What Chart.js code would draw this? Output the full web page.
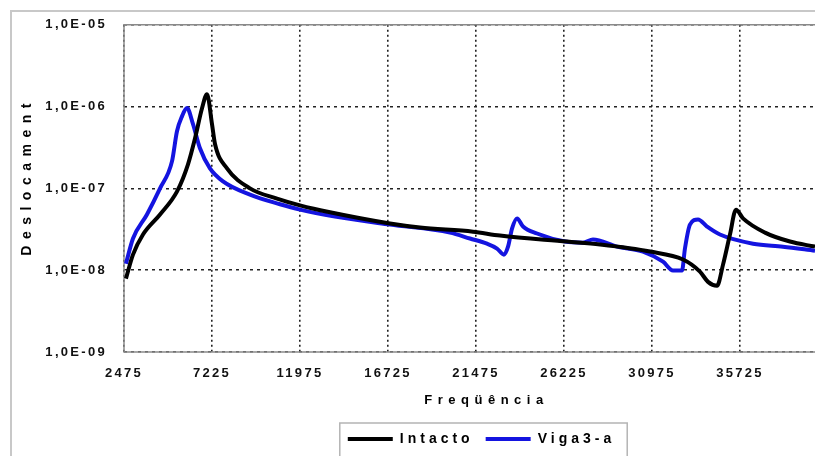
<!DOCTYPE html>
<html><head><meta charset="utf-8">
<script src="https://cdn.jsdelivr.net/npm/chart.js@4.4.1/dist/chart.umd.min.js"></script>
<style>html,body{margin:0;padding:0;background:#fff;overflow:hidden}</style>
</head><body>
<canvas id="c" width="815" height="456"></canvas>
<script>
const seriesNames = ['Intacto', 'Viga3-a'];
const intactoFreq = [2580, 2960, 3500, 4420, 5340, 5930, 6310, 6690, 6955, 7225, 7390, 8035, 9275, 10735, 11975, 13595, 16835, 18455, 21315, 22770, 26390, 28170, 30870, 32650, 33565, 34000, 34485, 34810, 35185, 35510, 35890, 37075, 38425, 39775];
const intactoDesl = [7.9e-9, 1.55e-8, 2.73e-8, 4.8e-8, 9.2e-8, 1.97e-7, 4.1e-7, 9.6e-7, 1.42e-6, 6.1e-7, 3.47e-7, 1.76e-7, 1.0e-7, 7.5e-8, 6.2e-8, 5.1e-8, 3.72e-8, 3.32e-8, 2.96e-8, 2.65e-8, 2.24e-8, 2.06e-8, 1.69e-8, 1.35e-8, 9.6e-9, 7.2e-9, 6.45e-9, 1.17e-8, 2.73e-8, 5.5e-8, 4.3e-8, 2.88e-8, 2.24e-8, 1.94e-8];
const vigaFreq = [2580, 2960, 3715, 4420, 5065, 5335, 5605, 5875, 6200, 6575, 7115, 7820, 9275, 10895, 11975, 13865, 16835, 20070, 21150, 22070, 22610, 22985, 23205, 23420, 23690, 24015, 24770, 26280, 27250, 27790, 29085, 30490, 31570, 32110, 32595, 32755, 33025, 33460, 33945, 34645, 36430, 38045, 39775];
const vigaDesl = [1.2e-8, 2.44e-8, 4.8e-8, 1.0e-7, 2.14e-7, 5.0e-7, 7.6e-7, 9.6e-7, 6.1e-7, 3.1e-7, 1.76e-7, 1.22e-7, 8.4e-8, 6.4e-8, 5.5e-8, 4.53e-8, 3.61e-8, 2.88e-8, 2.44e-8, 2.11e-8, 1.84e-8, 1.55e-8, 1.94e-8, 3.23e-8, 4.3e-8, 3.42e-8, 2.81e-8, 2.24e-8, 2.17e-8, 2.37e-8, 1.94e-8, 1.69e-8, 1.27e-8, 9.9e-9, 9.9e-9, 1.84e-8, 3.61e-8, 4.17e-8, 3.42e-8, 2.73e-8, 2.11e-8, 1.94e-8, 1.73e-8];
const xTicks = [2475, 7225, 11975, 16725, 21475, 26225, 30975, 35725];
const yTicks = [1e-9, 1e-8, 1e-7, 1e-6, 1e-5];
const xAxisTitle = 'Freqüência';
const yAxisTitle = 'Deslocament';

const FONT = 'Liberation Sans, Arial, sans-serif';
const toPts = (xs, ys) => xs.map((x, i) => ({x: x, y: ys[i]}));

function withSpacing(obj, method, sp, dx, dy) {
  const orig = obj[method];
  obj[method] = function (...a) {
    const ctx = this.ctx;
    ctx.save();
    ctx.letterSpacing = sp;
    if (dx || dy) ctx.translate(dx || 0, dy || 0);
    try { return orig.apply(this, a); } finally { ctx.restore(); }
  };
}

const spacingPlugin = {
  id: 'spacing',
  afterInit(chart) {
    if (chart.legend) {
      const lg = chart.legend;
      const origFit = lg.fit;
      lg.fit = function (...a) { const p = this.ctx.letterSpacing; this.ctx.letterSpacing = '4px'; try { return origFit.apply(this, a); } finally { this.ctx.letterSpacing = p; } };
      withSpacing(lg, 'draw', '4px');
    }
  },
  beforeLayout(chart) {
    const sx = chart.scales.x, sy = chart.scales.y;
    if (sx && !sx._patched) { withSpacing(sx, 'drawTitle', '5.5px', 17, 0); withSpacing(sx, 'drawLabels', '2.3px'); sx._patched = true; }
    if (sy && !sy._patched) { withSpacing(sy, 'drawTitle', '6.5px', 0, -12); withSpacing(sy, 'drawLabels', '2.3px'); sy._patched = true; }
  },
  afterLayout(chart) {
    const lg = chart.legend;
    if (lg) { lg.left += 74; lg.right += 74; }
  }
};

const framePlugin = {
  id: 'frames',
  beforeDraw(chart) {
    const ctx = chart.ctx;
    ctx.save();
    ctx.strokeStyle = '#c8c8c8';
    ctx.lineWidth = 2;
    ctx.strokeRect(11, 11, 900, 900);
    ctx.restore();
  },
  beforeDatasetsDraw(chart) {
    const ctx = chart.ctx, a = chart.chartArea;
    ctx.save();
    ctx.strokeStyle = '#8a8a8a';
    ctx.lineWidth = 1.5;
    ctx.beginPath();
    ctx.moveTo(a.right + 20, a.top); ctx.lineTo(a.left, a.top); ctx.lineTo(a.left, a.bottom); ctx.lineTo(a.right + 20, a.bottom);
    ctx.stroke();
    ctx.restore();
  },
  afterDraw(chart) {
    const lg = chart.legend;
    if (!lg || !lg.legendHitBoxes || !lg.legendHitBoxes.length) return;
    const hb = lg.legendHitBoxes;
    const l = Math.min(...hb.map(h => h.left)) - 8;
    const r = Math.max(...hb.map(h => h.left + h.width)) + 12;
    const t = Math.min(...hb.map(h => h.top)) - 9;
    const ctx = chart.ctx;
    ctx.save();
    ctx.strokeStyle = '#b4b4b4';
    ctx.lineWidth = 1.5;
    ctx.strokeRect(l, t, r - l, 60);
    ctx.restore();
  }
};

new Chart(document.getElementById('c'), {
  type: 'line',
  data: {
    datasets: [
      {label: seriesNames[0], data: toPts(intactoFreq, intactoDesl), borderColor: '#000000', backgroundColor: '#000000', borderWidth: 4, pointRadius: 0, cubicInterpolationMode: 'monotone', fill: false},
      {label: seriesNames[1], data: toPts(vigaFreq, vigaDesl), borderColor: '#1414e0', backgroundColor: '#1414e0', borderWidth: 4, pointRadius: 0, cubicInterpolationMode: 'monotone', fill: false}
    ]
  },
  options: {
    responsive: false,
    animation: false,
    devicePixelRatio: 1,
    layout: {padding: {top: 24, left: 0, right: 0, bottom: 0}},
    plugins: {
      tooltip: {enabled: false},
      legend: {
        position: 'bottom',
        labels: {
          font: {family: FONT, size: 14, weight: 'bold'},
          color: '#000',
          boxWidth: 45,
          boxHeight: 4,
          padding: 12,
          generateLabels: (chart) => chart.data.datasets.map((d, i) => ({
            text: d.label, fillStyle: d.borderColor, strokeStyle: d.borderColor, lineWidth: 0,
            hidden: false, datasetIndex: i, fontColor: '#000'
          }))
        }
      }
    },
    scales: {
      x: {
        type: 'linear',
        min: 2475,
        max: 39775,
        afterBuildTicks: (s) => { s.ticks = xTicks.map(v => ({value: v})); },
        afterFit: (s) => { s.height = 68; },
        ticks: {
          font: {family: FONT, size: 13, weight: 'bold'}, color: '#111', padding: 14, maxRotation: 0,
          callback: (v) => String(v)
        },
        grid: {color: '#222', lineWidth: 1.6, drawTicks: false},
        border: {display: false, dash: [2, 3]},
        title: {display: true, text: xAxisTitle, font: {family: FONT, size: 13, weight: 'bold'}, color: '#000', padding: {top: 0, bottom: 12}}
      },
      y: {
        type: 'logarithmic',
        min: 1e-9,
        max: 1e-5,
        afterBuildTicks: (s) => { s.ticks = yTicks.map(v => ({value: v})); },
        afterFit: (s) => { s.width = 124; },
        ticks: {
          font: {family: FONT, size: 13, weight: 'bold'}, color: '#111', padding: 17,
          callback: (v) => '1,0E-' + String(-Math.round(Math.log10(v))).padStart(2, '0')
        },
        grid: {color: '#222', lineWidth: 1.6, drawTicks: false},
        border: {display: false, dash: [3, 4]},
        title: {display: true, text: yAxisTitle, font: {family: FONT, size: 14, weight: 'bold'}, color: '#000', padding: {top: 19, bottom: 0}}
      }
    }
  },
  plugins: [spacingPlugin, framePlugin]
});
</script>
</body></html>
